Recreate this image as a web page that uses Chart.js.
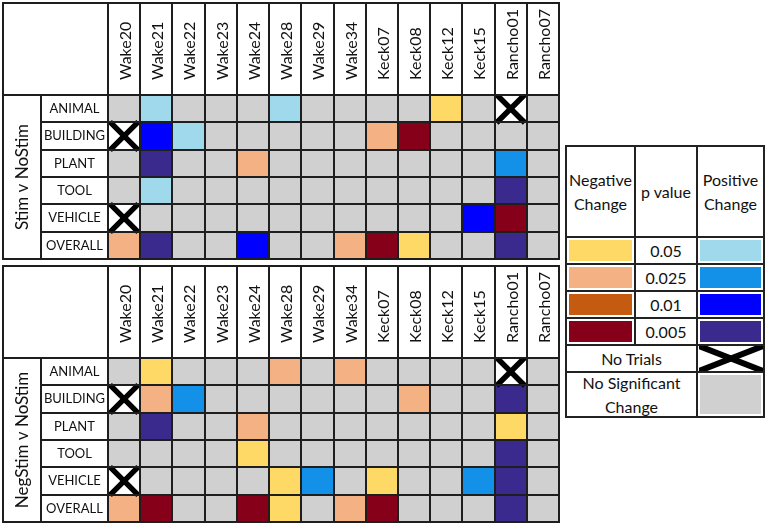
<!DOCTYPE html>
<html>
<head>
<meta charset="utf-8">
<script src="https://cdn.jsdelivr.net/npm/chart.js@4.4.0/dist/chart.umd.min.js"></script>
<style>
  body { margin: 0; background: #fff; font-family: Lato, sans-serif; }
  .tbl { position: absolute; left: 2px; width: 559px; height: 259px; }
  #key { position: absolute; left: 565px; top: 145px; width: 200px; height: 275px; }
  #key .cell {
    position: absolute; box-sizing: border-box; border: 2px solid #222;
    display: flex; align-items: center; justify-content: center; text-align: center;
    font-size: 16px; line-height: 1.45; color: #111; background: #fff;
  }
  #key .swatch { box-shadow: inset 0 0 0 2px #fff; }
</style>
</head>
<body>
<div class="tbl" style="top:2px"><canvas id="stimChart"></canvas></div>
<div class="tbl" style="top:265px"><canvas id="negChart"></canvas></div>
<div id="key"></div>

<script>
/* ===================== DATA ===================== */
const participants = ['Wake20', 'Wake21', 'Wake22', 'Wake23', 'Wake24', 'Wake28', 'Wake29',
  'Wake34', 'Keck07', 'Keck08', 'Keck12', 'Keck15', 'Rancho01', 'Rancho07'];
const categories = ['ANIMAL', 'BUILDING', 'PLANT', 'TOOL', 'VEHICLE', 'OVERALL'];

// code: +n positive change, -n negative change (n=1..4 -> p 0.05 .. 0.005),
// 0 no significant change, null no trials
const stimVsNoStim = [
  [0, 1, 0, 0, 0, 1, 0, 0, 0, 0, -1, 0, null, 0],
  [null, 3, 1, 0, 0, 0, 0, 0, -2, -4, 0, 0, 0, 0],
  [0, 4, 0, 0, -2, 0, 0, 0, 0, 0, 0, 0, 2, 0],
  [0, 1, 0, 0, 0, 0, 0, 0, 0, 0, 0, 0, 4, 0],
  [null, 0, 0, 0, 0, 0, 0, 0, 0, 0, 0, 3, -4, 0],
  [-2, 4, 0, 0, 3, 0, 0, -2, -4, -1, 0, 0, 4, 0]
];
const negStimVsNoStim = [
  [0, -1, 0, 0, 0, -2, 0, -2, 0, 0, 0, 0, null, 0],
  [null, -2, 2, 0, 0, 0, 0, 0, 0, -2, 0, 0, 4, 0],
  [0, 4, 0, 0, -2, 0, 0, 0, 0, 0, 0, 0, -1, 0],
  [0, 0, 0, 0, -1, 0, 0, 0, 0, 0, 0, 0, 4, 0],
  [null, 0, 0, 0, 0, -1, 2, 0, -1, 0, 0, 2, 4, 0],
  [-2, -4, 0, 0, -4, -1, 0, -2, -4, 0, 0, 0, 4, 0]
];

const pLevels = ['0.05', '0.025', '0.01', '0.005'];
const negColors = ['#FFD966', '#F4B183', '#C55A11', '#860019'];
const posColors = ['#9FD9EB', '#1390E8', '#0000FF', '#3B2A8E'];
const noChangeColor = '#D0D0D0';

/* ===================== HELPERS ===================== */
function cellColor(code) {
  if (code === null) return '#fff';
  if (code === 0) return noChangeColor;
  return code > 0 ? posColors[code - 1] : negColors[-code - 1];
}

const LINE = '#1e1e1e';
const HEADER_H = 93;
const AXIS_W = 106;
const ROWLABEL_W = 67;

const measure = document.createElement('canvas').getContext('2d');
measure.font = '13px Lato';
const widestRow = Math.max(...categories.map(c => measure.measureText(c).width));

function noScalePadding(s) {
  s.paddingLeft = s.paddingRight = s.paddingTop = s.paddingBottom = 0;
}

const framePlugin = {
  id: 'frame',
  afterDraw(chart) {
    const { ctx, chartArea: a } = chart;
    const edge = chart.scales.y.right - ROWLABEL_W;
    ctx.save();
    ctx.strokeStyle = LINE;
    ctx.lineWidth = 2;
    ctx.strokeRect(1, 1, a.right - 1, a.bottom - 1);
    ctx.beginPath();
    ctx.moveTo(1, a.top); ctx.lineTo(a.left, a.top);
    ctx.moveTo(edge, a.top); ctx.lineTo(edge, a.bottom);
    ctx.stroke();
    ctx.restore();
  }
};

/* ===================== TABLE CHARTS ===================== */
function makeTable(id, title, values) {
  const datasets = categories.map((cat, r) => ({
    label: cat,
    data: values[r].map(() => 1),
    backgroundColor: values[r].map(cellColor),
    borderWidth: 0,
    categoryPercentage: 1,
    barPercentage: 1,
    stack: 'cells'
  }));

  const noTrials = [];
  values.forEach((row, r) => row.forEach((v, c) => {
    if (v === null) noTrials.push({ x: participants[c], y: r + 0.5 });
  }));
  datasets.push({
    type: 'line',
    label: 'No Trials',
    data: noTrials,
    order: -1,
    showLine: false,
    stack: 'marks',
    pointStyle: 'crossRot',
    pointRadius: 20,
    pointHoverRadius: 20,
    borderColor: '#000',
    pointBorderWidth: 5.5,
    pointHoverBorderWidth: 5.5
  });

  new Chart(document.getElementById(id), {
    type: 'bar',
    data: { labels: participants, datasets },
    options: {
      responsive: true,
      maintainAspectRatio: false,
      animation: false,
      events: [],
      layout: { autoPadding: false, padding: { left: 0, top: 0, right: 2, bottom: 2 } },
      plugins: { legend: { display: false }, tooltip: { enabled: false } },
      scales: {
        x: {
          position: 'top',
          stacked: true,
          grid: { offset: true, color: LINE, lineWidth: 2, tickLength: HEADER_H, z: 1 },
          border: { display: false },
          ticks: {
            minRotation: 90, maxRotation: 90, autoSkip: false,
            padding: -78, labelOffset: 21, color: '#111',
            font: { family: 'Lato', size: 16 }
          },
          afterFit: s => { s.height = HEADER_H; noScalePadding(s); }
        },
        y: {
          stacked: true,
          reverse: true,
          min: 0,
          max: 6,
          grid: {
            color: c => (c.tick && c.tick.value % 1) ? 'rgba(0,0,0,0)' : LINE,
            lineWidth: 2, tickLength: ROWLABEL_W, z: 1
          },
          border: { display: false },
          ticks: {
            stepSize: 0.5,
            autoSkip: false,
            crossAlign: 'center',
            padding: ROWLABEL_W / 2 - widestRow / 2 - ROWLABEL_W,
            color: '#111',
            font: { family: 'Lato', size: 13 },
            callback: v => (v % 1) ? categories[Math.floor(v)] : ''
          },
          title: {
            display: true, text: title, color: '#111',
            font: { family: 'Lato', size: 17 },
            padding: { top: 10, bottom: 0 }
          },
          afterFit: s => { s.width = AXIS_W; noScalePadding(s); }
        }
      }
    },
    plugins: [framePlugin]
  });
}

makeTable('stimChart', 'Stim v NoStim', stimVsNoStim);
makeTable('negChart', 'NegStim v NoStim', negStimVsNoStim);

/* ===================== KEY ===================== */
const keyCols = [0, 69, 131, 198];
const keyRows = [0, 91, 118, 145, 172, 199, 226, 271];
const key = document.getElementById('key');

function keyCell(c0, c1, r, html, bg) {
  const d = document.createElement('div');
  d.className = 'cell' + (bg ? ' swatch' : '');
  d.style.left = keyCols[c0] + 'px';
  d.style.width = (keyCols[c1] - keyCols[c0] + 2) + 'px';
  d.style.top = keyRows[r] + 'px';
  d.style.height = (keyRows[r + 1] - keyRows[r] + 2) + 'px';
  if (bg) d.style.background = bg;
  if (html) d.innerHTML = html;
  key.appendChild(d);
  return d;
}

keyCell(0, 1, 0, 'Negative<br>Change');
keyCell(1, 2, 0, 'p value');
keyCell(2, 3, 0, 'Positive<br>Change');
pLevels.forEach((p, i) => {
  keyCell(0, 1, i + 1, '', negColors[i]);
  keyCell(1, 2, i + 1, p);
  keyCell(2, 3, i + 1, '', posColors[i]);
});
keyCell(0, 2, 5, 'No Trials');
keyCell(2, 3, 5, '<svg width="64" height="25" style="display:block">' +
  '<line x1="0" y1="0" x2="64" y2="25" stroke="#000" stroke-width="6"/>' +
  '<line x1="0" y1="25" x2="64" y2="0" stroke="#000" stroke-width="6"/></svg>');
keyCell(0, 2, 6, 'No Significant<br>Change');
keyCell(2, 3, 6, '', noChangeColor);
</script>
</body>
</html>
